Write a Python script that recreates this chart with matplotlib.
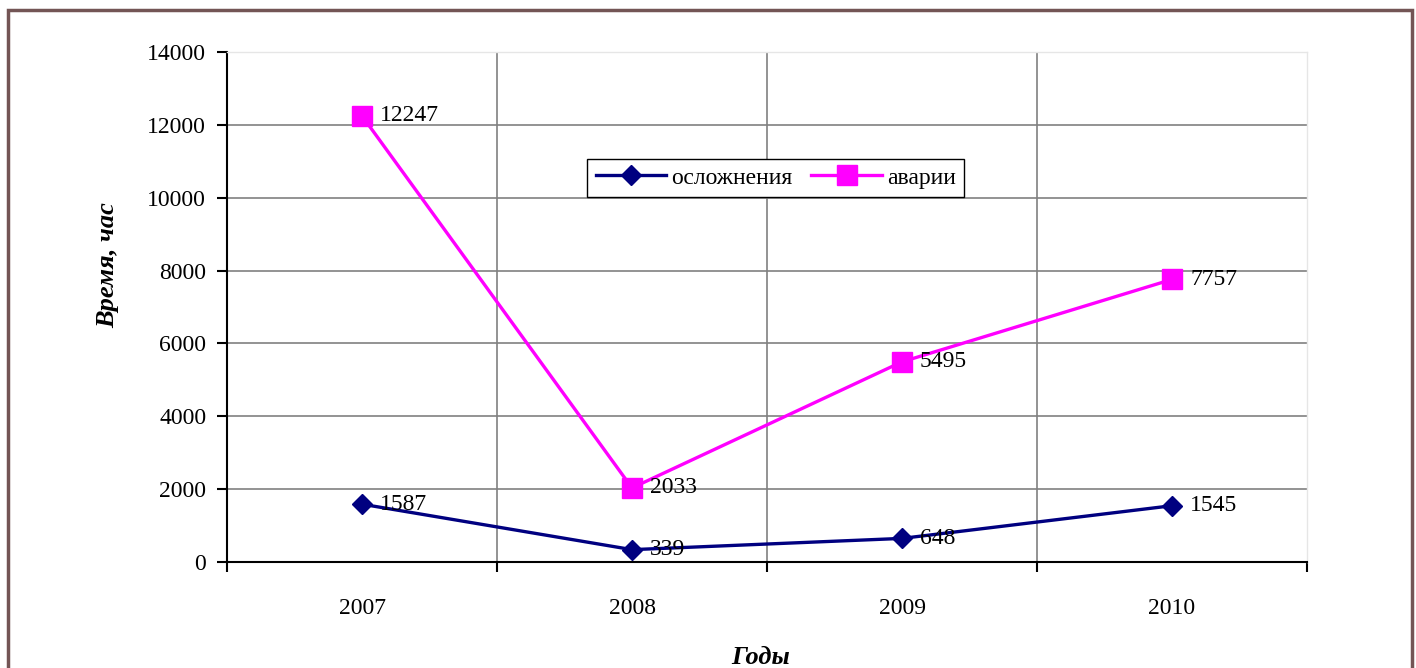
import matplotlib.pyplot as plt
from matplotlib.patches import Rectangle

years = ['2007', '2008', '2009', '2010']
oslozhneniya = [1587, 339, 648, 1545]
avarii = [12247, 2033, 5495, 7757]

plt.rcParams['font.family'] = ['Liberation Serif', 'DejaVu Serif']

fig = plt.figure(figsize=(14.16, 6.68), dpi=100)
ax = fig.add_axes([227 / 1416, 1 - 562 / 668, 1080 / 1416, 510 / 668])

x = [i + 0.5 for i in range(len(years))]
ax.plot(x, oslozhneniya, '-D', color='#000080', lw=2.4, markersize=10.5,
        label='осложнения', zorder=3)
ax.plot(x, avarii, '-s', color='#FF00FF', lw=2.4, markersize=14,
        label='аварии', zorder=3)

for xi, v in zip(x, oslozhneniya):
    ax.annotate(str(v), (xi, v), xytext=(13, 0), textcoords='offset points',
                va='center', ha='left', fontsize=17, zorder=4)
for xi, v in zip(x, avarii):
    ax.annotate(str(v), (xi, v), xytext=(13, 0), textcoords='offset points',
                va='center', ha='left', fontsize=17, zorder=4)

ax.set_xlim(0, 4)
ax.set_ylim(0, 14000)
ax.set_yticks(range(0, 14001, 2000))
ax.set_xticks(range(0, 5))
ax.set_xticklabels([])
ax.set_xticks(x, minor=True)
ax.set_xticklabels(years, minor=True)
ax.tick_params(axis='x', which='minor', length=0, pad=26, labelsize=17)
ax.tick_params(axis='x', which='major', direction='out', length=7, width=1.5)
ax.tick_params(axis='y', direction='out', length=7, width=1.5, labelsize=17, pad=8)

# horizontal grid plus category separators (not on the right edge)
ax.grid(True, axis='y', color='#808080', lw=1.2)
ax.vlines(range(1, len(years)), 0, 14000, color='#808080', lw=1.2, zorder=0.5)
ax.spines['left'].set_linewidth(1.5)
ax.spines['bottom'].set_linewidth(1.5)
for s in ('top', 'right'):
    ax.spines[s].set_color('#e6e6e6')
    ax.spines[s].set_linewidth(1)

fig.text(108 / 1416, 1 - 265 / 668, 'Время, час', rotation=90, fontsize=19,
         fontweight='bold', fontstyle='italic', ha='center', va='center')
fig.text(761 / 1416, 1 - 657 / 668, 'Годы', fontsize=19,
         fontweight='bold', fontstyle='italic', ha='center', va='center')

leg = ax.legend(loc='center', bbox_to_anchor=(0.508, 0.753), ncol=2,
                fontsize=17, frameon=True, fancybox=False, edgecolor='black',
                framealpha=1, handlelength=3, columnspacing=0.8,
                handletextpad=0.2, borderpad=0.35)
leg.get_frame().set_linewidth(1)

# brown page frame
fig.patches.append(Rectangle((8 / 1416, -0.1), 1404 / 1416, 1.1 - 10 / 668,
                             transform=fig.transFigure, fill=False,
                             edgecolor='#735555', lw=2.5))

fig.savefig('out.png', dpi=100)
